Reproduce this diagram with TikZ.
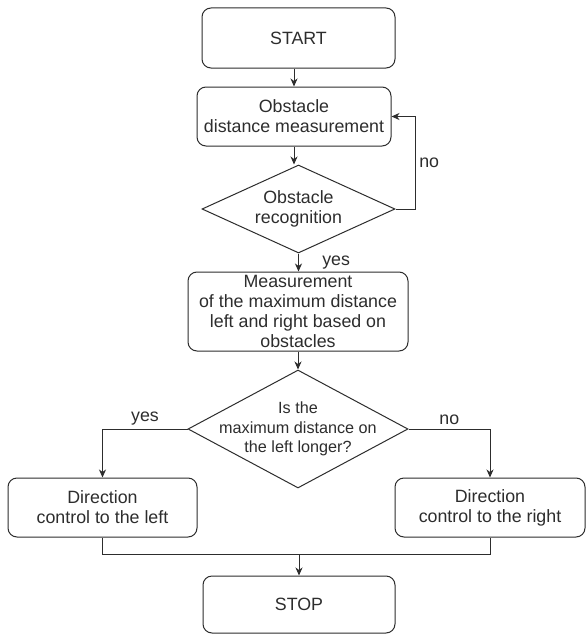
\documentclass[tikz,border=0pt]{standalone}
\usepackage{fontspec}
\setmainfont{Liberation Sans}
\usetikzlibrary{shapes.geometric,arrows.meta}
\definecolor{flowgray}{RGB}{45,45,45}

\begin{document}
\begin{tikzpicture}[x=1pt, y=-1pt,
    wire/.style={draw=flowgray, line width=1pt},
    flow/.style={wire, -{Stealth[length=8pt,width=7pt,inset=2.5pt]}},
    box/.style={draw=flowgray, line width=1pt, rounded corners=9pt, align=center,
      inner sep=0pt, text=flowgray, font=\fontsize{17.8}{20}\selectfont},
    decision/.style={draw=flowgray, line width=1pt, diamond, shape aspect=2.2,
      align=center, inner sep=0pt, text=flowgray, font=\fontsize{17.8}{20}\selectfont},
    lbl/.style={text=flowgray, font=\fontsize{17.8}{20}\selectfont}]
    \fill[white] (0,0) rectangle (587,634);
    \useasboundingbox (0,0) rectangle (587,634);
    % main column
    \node[box, minimum width=193pt, minimum height=60pt] (start) at (298.5,38) {START};
    \node[box, minimum width=194pt, minimum height=59pt] (dist) at (294,116.5) {Obstacle\\distance measurement};
    \node[decision, minimum width=193pt, minimum height=88pt] (obst) at (298.5,209) {Obstacle\\recognition};
    \node[box, minimum width=220pt, minimum height=79pt] (meas) at (298,311.5)
      {Measurement\\of the maximum distance\\left and right based on\\obstacles};
    \node[decision, minimum width=220pt, minimum height=118pt,
      label={[lbl, align=center, font=\fontsize{16.2}{19.5}\selectfont]center:Is the\\maximum distance on\\the left longer?}]
      (cmp) at (298,429) {};
    % two branches
    \node[box, minimum width=189pt, minimum height=59pt] (leftdir) at (102.5,507.5) {Direction\\control to the left};
    \node[box, minimum width=190pt, minimum height=59pt] (rightdir) at (490,507.5) {Direction\\control to the right};
    \node[box, minimum width=192pt, minimum height=57pt] (stop) at (299,604.5) {STOP};
    \path (stop.north) ++(0,-21) coordinate (join);

    \draw[flow] (dist.north |- start.south) -- (dist.north);
    \draw[flow] (dist.south) -- (dist.south |- obst.north);
    \draw[flow] (obst.east) -- ++(20,0) |- node[lbl, pos=0.25, right] {no} (dist.east);
    \draw[flow] (obst.south) -- node[lbl, right=20pt] {yes} (obst.south |- meas.north);
    \draw[flow] (meas.south) -- (cmp.north);
    \draw[flow] (cmp.west) -| node[lbl, pos=0.25, above] {yes} (leftdir.north);
    \draw[flow] (cmp.east) -| node[lbl, pos=0.25, above] {no} (rightdir.north);
    \draw[wire] (leftdir.south) |- (join) -| (rightdir.south);
    \draw[flow] (join) -- (stop.north);
  \end{tikzpicture}
\end{document}
